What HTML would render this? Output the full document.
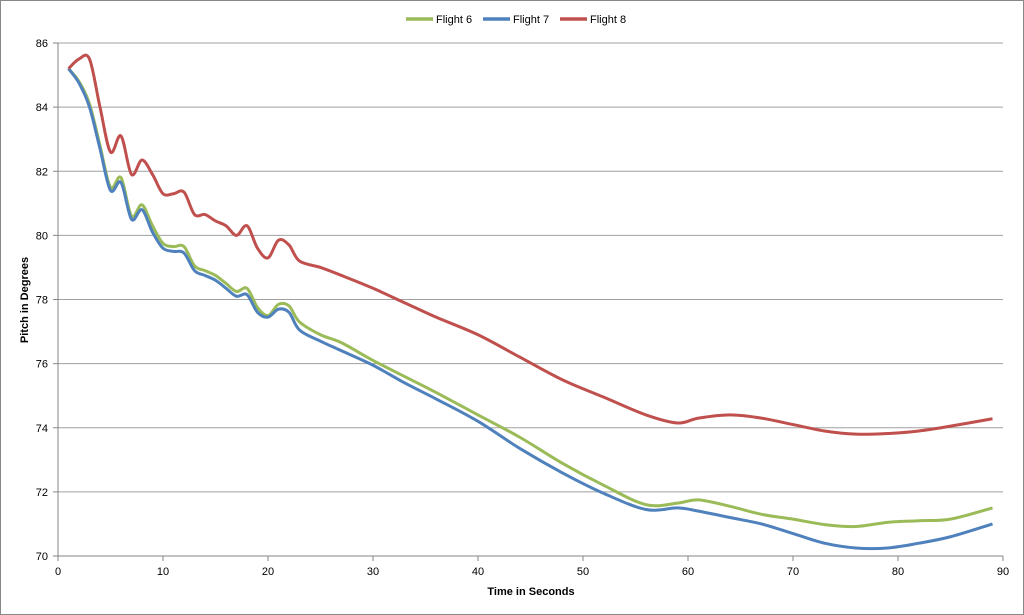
<!DOCTYPE html>
<html><head><meta charset="utf-8"><style>
body{margin:0;background:#fff;font-family:"Liberation Sans",sans-serif}
svg{display:block}
</style></head><body>
<svg id="chart" width="1024" height="615" viewBox="0 0 1024 615">
<rect x="0.5" y="0.5" width="1023" height="614" fill="#fff" stroke="#888"/>
<g id="grid"></g><g id="axes"></g><g id="series"></g>
<g font-size="11" fill="#000">
<g><line x1="406" y1="19" x2="433" y2="19" stroke="#9BBB59" stroke-width="3.5"/><text x="436" y="23">Flight 6</text></g>
<g><line x1="483" y1="19" x2="510" y2="19" stroke="#4F81BD" stroke-width="3.5"/><text x="513" y="23">Flight 7</text></g>
<g><line x1="560" y1="19" x2="587" y2="19" stroke="#C0504D" stroke-width="3.5"/><text x="590" y="23">Flight 8</text></g>
</g>
<text x="531" y="595" text-anchor="middle" font-size="11" font-weight="bold">Time in Seconds</text>
<text transform="translate(28,300) rotate(-90)" text-anchor="middle" font-size="11" font-weight="bold">Pitch in Degrees</text>
</svg>
<script>
const times=[1,2,3,4,5,6,7,8,9,10,11,12,13,14,15,16,17,18,19,20,21,22,23,25,27,30,33,36,40,44,48,52,56,59,61,64,67,70,73,76,79,82,85,89];
const flight6=[85.2,84.8,84.1,82.8,81.5,81.8,80.6,80.95,80.3,79.75,79.65,79.65,79.05,78.9,78.75,78.5,78.25,78.35,77.75,77.5,77.85,77.8,77.3,76.9,76.65,76.1,75.6,75.1,74.4,73.7,72.9,72.2,71.6,71.65,71.75,71.55,71.3,71.15,70.98,70.92,71.05,71.1,71.15,71.5];
const flight7=[85.2,84.75,84.0,82.7,81.4,81.65,80.5,80.8,80.1,79.6,79.5,79.45,78.9,78.75,78.6,78.35,78.1,78.15,77.6,77.45,77.7,77.6,77.05,76.7,76.4,75.95,75.4,74.9,74.2,73.35,72.6,71.95,71.45,71.5,71.4,71.2,71.0,70.7,70.4,70.25,70.25,70.4,70.6,71.0];
const flight8=[85.2,85.5,85.5,84.0,82.6,83.1,81.9,82.35,81.9,81.3,81.3,81.35,80.65,80.65,80.45,80.3,80.0,80.3,79.6,79.3,79.85,79.7,79.2,79.0,78.75,78.35,77.9,77.45,76.9,76.2,75.5,74.95,74.4,74.15,74.3,74.4,74.3,74.1,73.9,73.8,73.82,73.9,74.05,74.28];
const xTicks=[0,10,20,30,40,50,60,70,80,90];
const yTicks=[70,72,74,76,78,80,82,84,86];
const NS="http://www.w3.org/2000/svg";
const X0=58,X1=1003,Y0=556,Y1=43;
const xs=t=>X0+(t-0)/(90-0)*(X1-X0);
const ys=v=>Y0-(v-70)/(86-70)*(Y0-Y1);
function mk(tag,attrs,parent){const e=document.createElementNS(NS,tag);for(const k in attrs)e.setAttribute(k,attrs[k]);parent.appendChild(e);return e;}
const grid=document.getElementById('grid'),axes=document.getElementById('axes'),ser=document.getElementById('series');
yTicks.forEach(v=>{
 const l=mk('line',{x1:X0,x2:X1,y1:ys(v),y2:ys(v),stroke:v===70?'#868686':'#a0a0a0','stroke-width':1},grid);
 
 
 const tk=mk('line',{x1:X0-5,x2:X0,y1:ys(v),y2:ys(v),stroke:'#868686'},axes);
 
 
 const t=mk('text',{x:X0-10,y:ys(v)+4,'text-anchor':'end','font-size':11},axes);
 t.textContent=v;
 
 
});
const ya=mk('line',{x1:X0,x2:X0,y1:Y1,y2:Y0,stroke:'#868686'},axes);


xTicks.forEach(v=>{
 const tk=mk('line',{x1:xs(v),x2:xs(v),y1:Y0,y2:Y0+5,stroke:'#868686'},axes);
 
 
 const t=mk('text',{x:xs(v),y:Y0+19,'text-anchor':'middle','font-size':11},axes);
 t.textContent=v;
 
 
});
function smooth(vals){
 const p=times.map((t,i)=>[xs(t),ys(vals[i])]);
 let d='M'+p[0][0]+','+p[0][1];
 for(let i=0;i<p.length-1;i++){
  const p0=p[i-1]||p[i],p1=p[i],p2=p[i+1],p3=p[i+2]||p2;
  const c1=[p1[0]+(p2[0]-p0[0])/6,p1[1]+(p2[1]-p0[1])/6];
  const c2=[p2[0]-(p3[0]-p1[0])/6,p2[1]-(p3[1]-p1[1])/6];
  d+=`C${c1[0]},${c1[1]} ${c2[0]},${c2[1]} ${p2[0]},${p2[1]}`;
 }
 return d;
}
[[flight6,'#9BBB59','line-flight-6'],[flight7,'#4F81BD','line-flight-7'],[flight8,'#C0504D','line-flight-8']].forEach(([v,c,n])=>{
 const path=mk('path',{d:smooth(v),fill:'none',stroke:c,'stroke-width':3,'stroke-linejoin':'round'},ser);
 
 
});
</script>
</body></html>
